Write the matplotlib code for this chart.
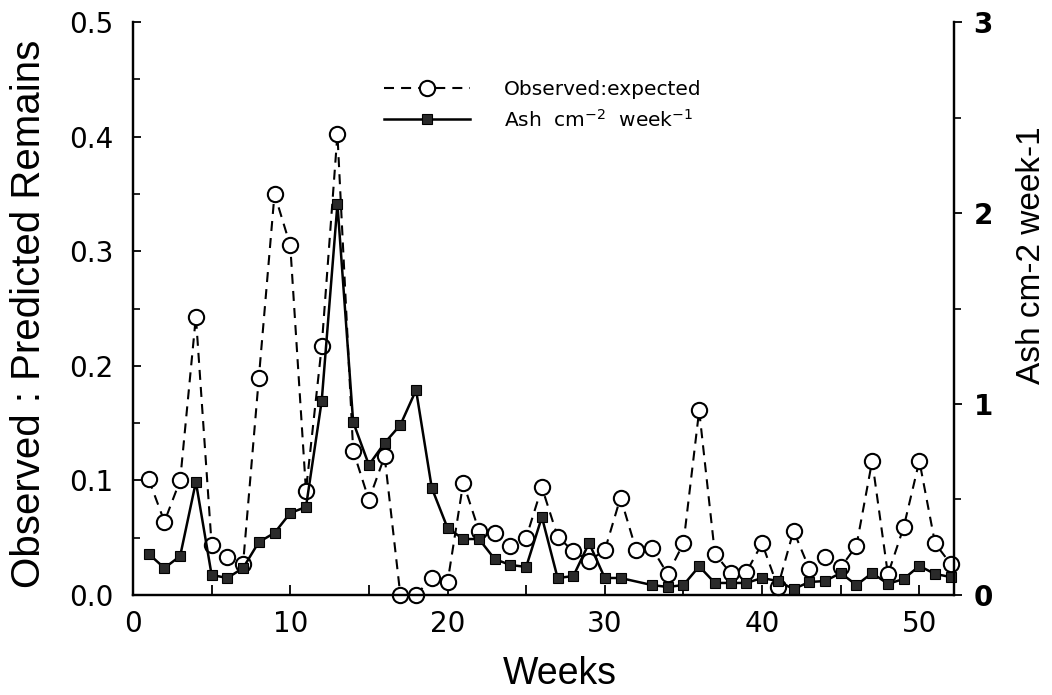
import matplotlib
matplotlib.use("Agg")
import matplotlib.pyplot as plt
from matplotlib.ticker import MultipleLocator, FormatStrFormatter

# observed:expected ratio, weeks 1..52 (left axis)
obs_weeks = list(range(1, 53))
obs_ratio = [0.101, 0.064, 0.100, 0.243, 0.044, 0.033, 0.027, 0.189, 0.350, 0.305,
             0.091, 0.217, 0.402, 0.126, 0.083, 0.121, 0.000, 0.000, 0.015, 0.011,
             0.098, 0.056, 0.054, 0.043, 0.050, 0.094, 0.051, 0.038, 0.030, 0.039,
             0.085, 0.039, 0.041, 0.018, 0.045, 0.161, 0.036, 0.019, 0.020, 0.045,
             0.007, 0.056, 0.023, 0.033, 0.024, 0.043, 0.117, 0.018, 0.059, 0.117,
             0.045, 0.027]

# ash cm-2 week-1 (right axis), no sample in week 32
ash_weeks = [w for w in range(1, 53) if w != 32]
ash_vals = [0.215, 0.141, 0.204, 0.592, 0.105, 0.089, 0.141, 0.277, 0.325, 0.429,
            0.461, 1.016, 2.047, 0.906, 0.681, 0.796, 0.890, 1.073, 0.560, 0.351,
            0.293, 0.293, 0.188, 0.157, 0.147, 0.408, 0.089, 0.099, 0.272, 0.089,
            0.089, 0.052, 0.042, 0.052, 0.150, 0.063, 0.063, 0.063, 0.089, 0.073,
            0.031, 0.068, 0.073, 0.115, 0.052, 0.115, 0.058, 0.084, 0.152, 0.110,
            0.094]

fig = plt.figure(figsize=(10.52, 6.95), dpi=100)
ax = fig.add_axes([0.1264, 0.1439, 0.7804, 0.8244])
ax2 = ax.twinx()

l1, = ax.plot(obs_weeks, obs_ratio, color="black", lw=1.5, ls=(0, (4.8, 3.4)),
              marker="o", ms=11, mfc="white", mec="black", mew=1.5, clip_on=False,
              label="Observed:expected")
l2, = ax2.plot(ash_weeks, ash_vals, color="black", lw=1.8, marker="s", ms=7.5,
               mfc="#2a2a2a", mec="black", mew=0.8, clip_on=False,
               label="Ash  cm$^{-2}$  week$^{-1}$")

ax.set_xlim(0, 52.2)
ax.set_ylim(0, 0.5)
ax2.set_ylim(0, 3)

ax.xaxis.set_major_locator(MultipleLocator(10))
ax.xaxis.set_minor_locator(MultipleLocator(5))
ax.yaxis.set_major_locator(MultipleLocator(0.1))
ax.yaxis.set_minor_locator(MultipleLocator(0.05))
ax.yaxis.set_major_formatter(FormatStrFormatter("%.1f"))
ax2.yaxis.set_major_locator(MultipleLocator(1))
ax2.yaxis.set_minor_locator(MultipleLocator(0.5))

for a in (ax, ax2):
    a.spines["top"].set_visible(False)
    for s in a.spines.values():
        s.set_linewidth(1.6)

ax.tick_params(axis="x", which="both", direction="in", length=7, width=1.3,
               labelsize=20, pad=11)
ax.tick_params(axis="y", which="major", direction="in", length=6, width=1.3,
               labelsize=20, pad=14)
ax.tick_params(axis="y", which="minor", direction="in", length=5, width=1.2)
ax2.tick_params(axis="y", which="major", direction="out", length=6, width=1.3,
                labelsize=20, pad=8)
ax2.tick_params(axis="y", which="minor", direction="out", length=5, width=1.2)
for t in ax2.get_yticklabels():
    t.set_fontweight("bold")

ax.set_xlabel("Weeks", fontsize=27, family="Liberation Sans")
ax.xaxis.set_label_coords(0.52, -0.106)
ax.set_ylabel("Observed : Predicted Remains", fontsize=29, family="Liberation Sans")
ax.yaxis.set_label_coords(-0.103, 0.49)
ax2.set_ylabel("Ash cm-2 week-1", fontsize=24, family="Liberation Sans")
ax2.yaxis.set_label_coords(1.075, 0.593)

ax2.legend(handles=[l1, l2], loc="upper left", bbox_to_anchor=(0.355, 0.9),
           bbox_transform=fig.transFigure, frameon=False, fontsize=14.5,
           numpoints=1, handlelength=4.3, handletextpad=1.7, labelspacing=0.5,
           borderpad=0)

fig.savefig("out.png", dpi=100)
